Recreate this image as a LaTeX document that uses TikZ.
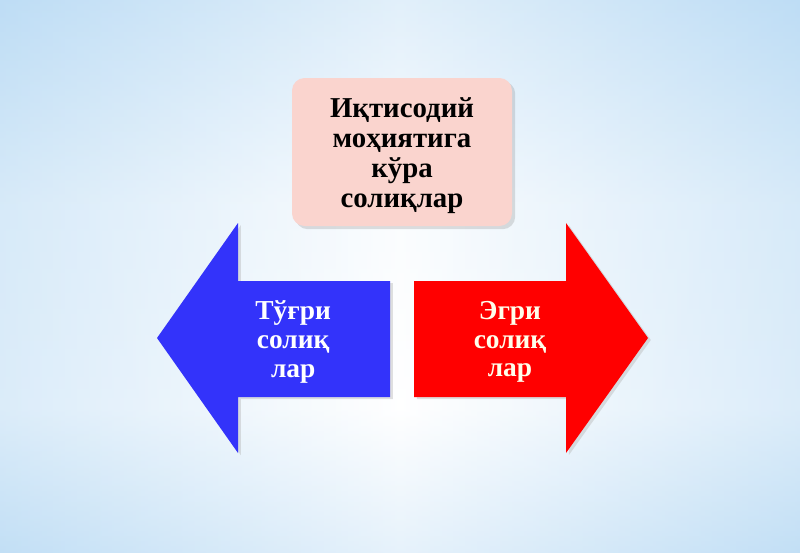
\documentclass[tikz,border=0pt]{standalone}
\usepackage{fontspec}
\setmainfont{Liberation Serif}
\usepackage{xcolor}
\usepackage{tikz}
\usetikzlibrary{shadows, positioning, calc}
\definecolor{direct}{RGB}{51, 51, 250}
\definecolor{indirect}{RGB}{255, 0, 0}
\definecolor{topic}{RGB}{250, 212, 206}
\definecolor{sky}{RGB}{190, 221, 245}

\begin{document}
\begin{tikzpicture}
    % Background - light blue, pale in the middle
    \useasboundingbox (0,0) rectangle (20,-13.825);
    \shade[top color=sky, bottom color=white, middle color=white!85!sky] (0,0) rectangle (20,-10.2);
    \shade[top color=white, bottom color=sky!85] (0,-10.2) rectangle (20,-13.825);
    \shade[left color=sky, right color=sky, middle color=white, opacity=0.55] (0,0) rectangle (20,-13.825);
    
    % Top box
    \node[fill=topic, rounded corners=9pt, minimum width=5.5cm, minimum height=3.7cm,
          drop shadow={opacity=0.25}] (topic) at (10.05,-3.8) {};
    \node[align=center, font=\fontsize{20.5}{21.3}\selectfont\bfseries] (topictext)
          at ($(topic.center)+(0,-0.1)$) {Иқтисодий\\моҳиятига\\кўра\\солиқлар};
    
    % Left arrow - direct
    \fill[black!30, opacity=0.4] (4.0,-8.5) -- (6.02,-5.63) -- (6.02,-7.08) -- (9.82,-7.08)
         -- (9.82,-9.98) -- (6.02,-9.98) -- (6.02,-11.38) -- cycle;
    \fill[direct] (3.925,-8.45) -- (5.95,-5.575) -- (5.95,-7.025) -- (9.75,-7.025)
         -- (9.75,-9.925) -- (5.95,-9.925) -- (5.95,-11.325) -- cycle;
    
    % Right arrow - indirect
    \fill[black!30, opacity=0.4] (10.42,-7.08) -- (14.22,-7.08) -- (14.22,-5.63) -- (16.27,-8.5)
         -- (14.22,-11.38) -- (14.22,-9.98) -- (10.42,-9.98) -- cycle;
    \fill[indirect] (10.35,-7.025) -- (14.15,-7.025) -- (14.15,-5.575) -- (16.2,-8.45)
         -- (14.15,-11.325) -- (14.15,-9.925) -- (10.35,-9.925) -- cycle;
    
    % Labels on arrows
    \node[white, align=center, font=\fontsize{19.5}{20.5}\selectfont\bfseries] (direct) at (7.33,-8.55)
         {Тўғри\\солиқ\\лар};
    \node[white!92!yellow, align=center, font=\fontsize{19.5}{20.5}\selectfont\bfseries] (indirect) at (12.75,-8.55)
         {Эгри\\солиқ\\лар};
    
\end{tikzpicture}
\end{document}
